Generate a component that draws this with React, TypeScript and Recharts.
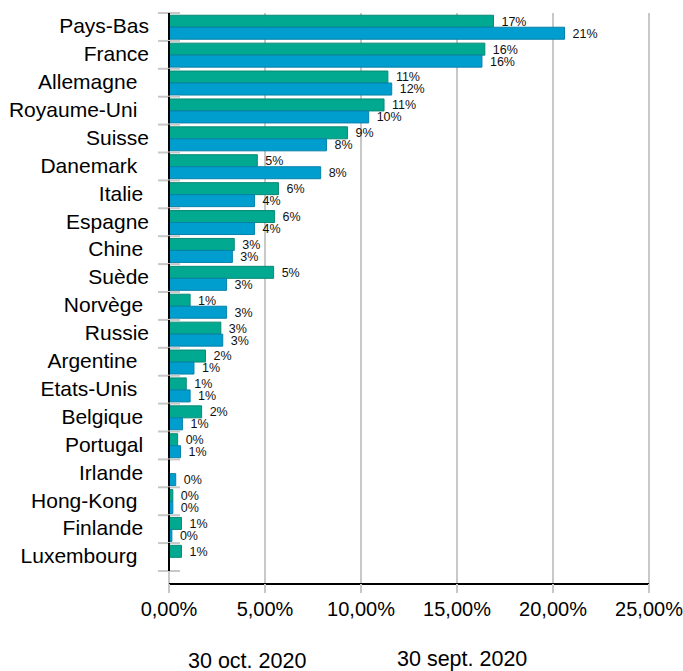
import { Bar, BarChart, CartesianGrid, LabelList, XAxis, YAxis } from "recharts"

const countries = [
  "Pays-Bas", "France", "Allemagne  ", "Royaume-Uni  ", "Suisse", "Danemark  ",
  "Italie ", "Espagne", "Chine ", "Suède", "Norvège ", "Russie", "Argentine  ",
  "Etats-Unis  ", "Belgique ", "Portugal ", "Irlande ", "Hong-Kong  ", "Finlande ",
  "Luxembourg  ",
]

// 30 oct. 2020 (green) and 30 sept. 2020 (blue), in %
const oct2020 = [16.9, 16.45, 11.4, 11.2, 9.3, 4.6, 5.7, 5.5, 3.4, 5.45, 1.1, 2.7, 1.9, 0.9, 1.7, 0.45, null, 0.2, 0.65, 0.65]
const sept2020 = [20.6, 16.3, 11.6, 10.4, 8.2, 7.9, 4.45, 4.45, 3.3, 3.0, 3.0, 2.8, 1.3, 1.1, 0.7, 0.6, 0.35, 0.2, 0.15, null]

const seriesNames = ["30 oct. 2020", "30 sept. 2020"]
const xTicks = [0, 5, 10, 15, 20, 25]

const data = countries.map((name, i) => ({ name, oct: oct2020[i], sept: sept2020[i] }))

const font = '"Liberation Sans", Arial, sans-serif'
const grey = "#c8c8c8"

const pct = (v: any) => (v == null ? "" : `${Math.round(v)}%`)

function CountryTick(props: any) {
  const { x, y, payload, index, visibleTicksCount } = props
  const half = payload?.offset ?? 14
  const label = String(payload.value).replace(/ +$/, (m) => "\u00A0".repeat(m.length))
  const last = index === visibleTicksCount - 1
  return (
    <g>
      <line x1={x - 11} x2={x + 11} y1={y - half} y2={y - half} stroke={grey} strokeWidth={2} />
      {last && <line x1={x - 11} x2={x + 11} y1={y + half} y2={y + half} stroke={grey} strokeWidth={2} />}
      <line x1={x} x2={x} y1={y - half} y2={y + half} stroke="#000" strokeWidth={2} />
      <text x={x - 20} y={y} dy="0.3em" textAnchor="end" fontSize={21} fill="#000">
        {label}
      </text>
    </g>
  )
}

export default function App() {
  return (
    <div style={{ position: "absolute", left: 0, top: 0, width: 683, height: 671, fontFamily: font, background: "#fff" }}>
      <BarChart
        width={683}
        height={671}
        data={data}
        layout="vertical"
        margin={{ top: 13, right: 34, bottom: 47, left: 0 }}
        barCategoryGap="8%"
        barGap={0}
      >
        <CartesianGrid horizontal={false} stroke={grey} strokeWidth={2} />
        <XAxis
          type="number"
          domain={[0, 25]}
          ticks={xTicks}
          tickFormatter={(v) => `${v.toFixed(2).replace(".", ",")}%`}
          axisLine={{ stroke: "#000", strokeWidth: 2 }}
          tickLine={{ stroke: grey, strokeWidth: 2 }}
          tickSize={9}
          tickMargin={9}
          height={40}
          tick={{ fontSize: 20, fill: "#000" }}
        />
        <YAxis
          type="category"
          dataKey="name"
          width={169}
          axisLine={false}
          tickLine={false}
          tickSize={0}
          tickMargin={0}
          interval={0}
          padding={{ top: 0, bottom: 13 }}
          tick={<CountryTick />}
        />
        <Bar dataKey="oct" name={seriesNames[0]} fill="#00a98f" stroke="#0a8a75" isAnimationActive={false}>
          <LabelList dataKey="oct" position="right" offset={8} formatter={pct} fontSize={12.5} fill="#111" />
        </Bar>
        <Bar dataKey="sept" name={seriesNames[1]} fill="#009dcf" stroke="#0782aa" isAnimationActive={false}>
          <LabelList dataKey="sept" position="right" offset={8} formatter={pct} fontSize={12.5} fill="#111" />
        </Bar>
      </BarChart>
      <div style={{ position: "absolute", left: 188, top: 648, fontSize: 21.5, lineHeight: "26px" }}>{seriesNames[0]}</div>
      <div style={{ position: "absolute", left: 397, top: 646, fontSize: 21.5, lineHeight: "26px" }}>{seriesNames[1]}</div>
    </div>
  )
}
